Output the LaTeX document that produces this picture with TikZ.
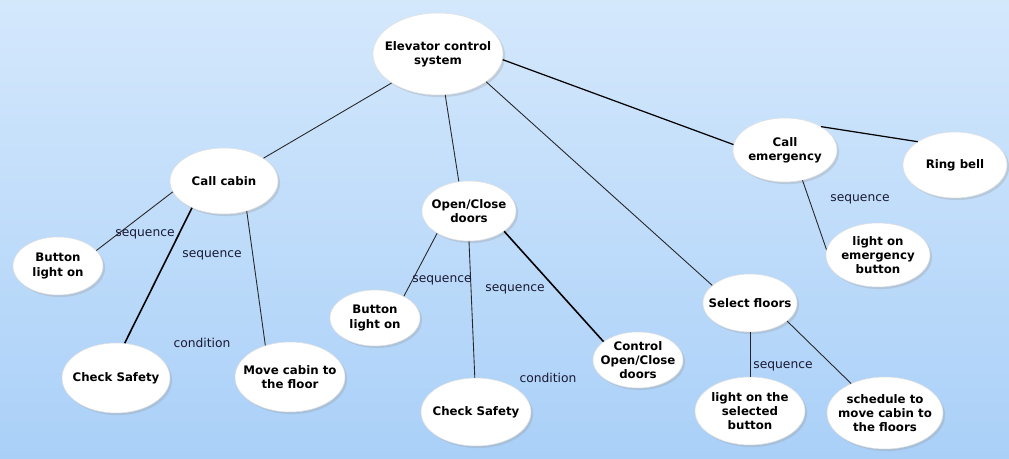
\documentclass[tikz,border=0pt]{standalone}
\usepackage{fontspec}
\setmainfont{DejaVu Sans}
\usepackage{xcolor}
\usepackage{tikz}
\usetikzlibrary{shapes.geometric, shadows}

\definecolor{bgtop}{RGB}{212,232,252}
\definecolor{bgbottom}{RGB}{170,208,248}
\definecolor{labeltext}{RGB}{25,25,50}

\begin{document}
\begin{tikzpicture}[x=0.02cm, y=-0.02cm]
        \tikzset{usecase/.style={ellipse, fill=white, draw=gray!25, line width=0.3pt,
            inner sep=-6pt, align=center,
            font=\fontsize{6.7}{8}\selectfont\bfseries,
            drop shadow={shadow xshift=1.2pt, shadow yshift=-1.2pt, opacity=0.3, fill=gray!80}},
            rel/.style={font=\fontsize{7}{8.5}\selectfont, text=labeltext, inner sep=1pt},
            link/.style={line width=0.5pt, black!85},
            boldlink/.style={line width=0.9pt, black}}

        \shade[top color=bgtop, bottom color=bgbottom] (0, 0) rectangle (1009, 459);
        \useasboundingbox (0, 0) rectangle (1009, 459);

        % use cases
        \node[usecase, minimum width=2.6cm, minimum height=1.64cm] (sys) at (438, 54) {Elevator control\\system};
        \node[usecase, minimum width=2.16cm, minimum height=1.32cm] (cabin) at (224, 181) {Call cabin};
        \node[usecase, minimum width=1.8cm, minimum height=1.16cm] (btnA) at (58, 266) {Button\\light on};
        \node[usecase, minimum width=2.16cm, minimum height=1.4cm] (safeA) at (116, 378) {Check Safety};
        \node[usecase, minimum width=2.2cm, minimum height=1.4cm] (move) at (290, 377) {Move cabin to\\the floor};
        \node[usecase, minimum width=1.88cm, minimum height=1.2cm] (doors) at (469, 211) {Open/Close\\doors};
        \node[usecase, minimum width=1.8cm, minimum height=1.12cm] (btnB) at (375, 318) {Button\\light on};
        \node[usecase, minimum width=2.2cm, minimum height=1.36cm] (safeB) at (476, 412) {Check Safety};
        \node[usecase, minimum width=1.8cm, minimum height=1.12cm] (ctrl) at (638, 360) {Control\\Open/Close\\doors};
        \node[usecase, minimum width=2.08cm, minimum height=1.28cm] (emerg) at (785, 150) {Call\\emergency};
        \node[usecase, minimum width=2.08cm, minimum height=1.32cm] (bell) at (955, 165) {Ring bell};
        \node[usecase, minimum width=2.08cm, minimum height=1.28cm] (embtn) at (878, 255) {light on\\emergency\\button};
        \node[usecase, minimum width=1.88cm, minimum height=1.16cm] (floors) at (750, 303) {Select floors};
        \node[usecase, minimum width=2.2cm, minimum height=1.36cm] (selbtn) at (750, 411) {light on the\\selected\\button};
        \node[usecase, minimum width=2.32cm, minimum height=1.44cm] (sched) at (885, 413) {schedule to\\move cabin to\\the floors};

        % connections
        \draw[link] (sys.212) -- (cabin.30);
        \draw[link] (sys.280) -- (doors.109);
        \draw[link] (sys.330) -- (floors.155);
        \draw[boldlink, line width=0.7pt] (sys.355) -- (emerg.174);
        \draw[boldlink, line width=0.7pt] (emerg.33) -- (bell.148);
        \draw[link] (emerg.300) -- (embtn.174);
        \draw[link] (cabin.192) -- (btnA.22);
        \draw[boldlink] (cabin.220) -- (safeA.76);
        \draw[link] (cabin.307) -- (move.128);
        \draw[link] (doors.215) -- (btnB.37);
        \draw[link] (doors.270) -- (safeB.92);
        \draw[boldlink] (doors.330) -- (ctrl.152);
        \draw[link] (floors.270) -- (selbtn.90);
        \draw[link] (floors.334) -- (sched.139);

        % relation labels
        \node[rel] (seqA) at (145, 234) {sequence};
        \node[rel] (seqB) at (212, 255) {sequence};
        \node[rel] (condA) at (202, 343) {condition};
        \node[rel] (seqC) at (442, 280) {sequence};
        \node[rel] (seqD) at (515, 289) {sequence};
        \node[rel] (condB) at (548, 378) {condition};
        \node[rel] (seqE) at (860, 199) {sequence};
        \node[rel] (seqF) at (783, 366) {sequence};

    \end{tikzpicture}
\end{document}
